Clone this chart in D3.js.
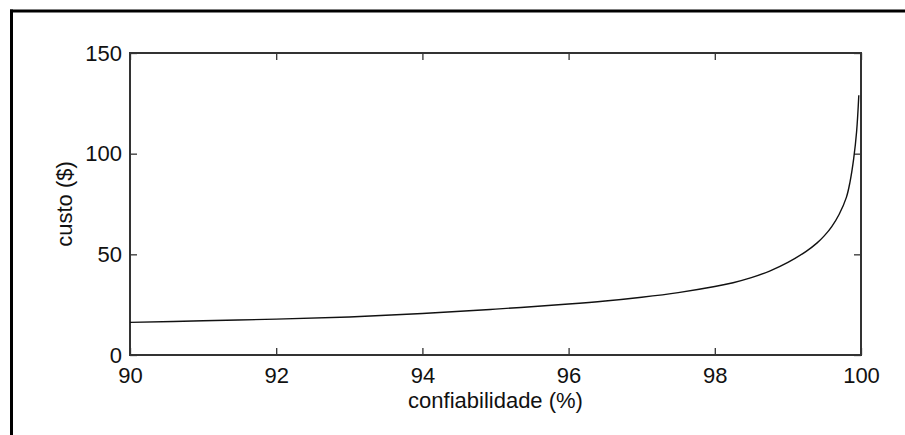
<!DOCTYPE html>
<html>
<head>
<meta charset="utf-8">
<script src="https://cdn.jsdelivr.net/npm/d3@7"></script>
<style>
  html, body { margin: 0; padding: 0; background: #fff; }
  svg { display: block; }
  text { font-family: "Liberation Sans", Arial, sans-serif; fill: #111; }
</style>
</head>
<body>
<div id="chart"></div>
<script>
// Data
const reliability = [90, 91, 92, 93, 94, 95, 96, 96.5, 97, 97.5, 98, 98.25, 98.5, 98.75, 99, 99.25, 99.4, 99.5, 99.6, 99.7, 99.8, 99.85, 99.9, 99.94, 99.97];
const cost        = [16.2, 17.0, 17.8, 18.9, 20.6, 22.8, 25.3, 26.8, 28.7, 31.0, 34.0, 35.9, 38.4, 41.7, 46.0, 51.5, 55.7, 59.3, 63.8, 69.8, 78.3, 86.0, 97.5, 111.0, 129];
const xTicks = [90, 92, 94, 96, 98, 100];
const yTicks = [0, 50, 100, 150];
const xLabel = "confiabilidade (%)";
const yLabel = "custo ($)";

(function () {
const W = 905, H = 435;
const pL = 130, pR = 861, pT = 53, pB = 355;

const svg = d3.select("#chart").append("svg").attr("width", W).attr("height", H);
svg.append("rect").attr("width", W).attr("height", H).attr("fill", "#fff");

// outer frame (top and left only)
svg.append("line").attr("x1", 10).attr("x2", W).attr("y1", 11).attr("y2", 11)
  .attr("stroke", "#000").attr("stroke-width", 3);
svg.append("line").attr("x1", 11.5).attr("x2", 11.5).attr("y1", 9.5).attr("y2", H)
  .attr("stroke", "#000").attr("stroke-width", 3);

const x = d3.scaleLinear().domain([90, 100]).range([pL, pR]);
const y = d3.scaleLinear().domain([0, 150]).range([pB, pT]);

const tickLen = 7;
const fs = 22;

function styleAxis(g) {
  g.select(".domain").remove();
  g.selectAll(".tick line").attr("stroke", "#333").attr("stroke-width", 1.3);
  g.selectAll(".tick text").attr("font-size", fs).attr("fill", "#111")
    .attr("font-family", '"Liberation Sans", Arial, sans-serif');
}

svg.append("g").attr("transform", `translate(0,${pB})`)
  .call(d3.axisBottom(x).tickValues(xTicks).tickFormat(d3.format("d")).tickSizeInner(-tickLen).tickSizeOuter(0).tickPadding(12))
  .call(styleAxis);
svg.append("g").attr("transform", `translate(0,${pT})`)
  .call(d3.axisTop(x).tickValues(xTicks).tickFormat("").tickSizeInner(-tickLen).tickSizeOuter(0))
  .call(styleAxis);
svg.append("g").attr("transform", `translate(${pL},0)`)
  .call(d3.axisLeft(y).tickValues(yTicks).tickFormat(d3.format("d")).tickSizeInner(-tickLen).tickSizeOuter(0).tickPadding(8))
  .call(styleAxis);
svg.append("g").attr("transform", `translate(${pR},0)`)
  .call(d3.axisRight(y).tickValues(yTicks).tickFormat("").tickSizeInner(-tickLen).tickSizeOuter(0))
  .call(styleAxis);

svg.append("rect").attr("x", pL).attr("y", pT).attr("width", pR - pL).attr("height", pB - pT)
  .attr("fill", "none").attr("stroke", "#333").attr("stroke-width", 2);

const pts = reliability.map((r, i) => [r, cost[i]]);
svg.append("path").datum(pts)
  .attr("fill", "none").attr("stroke", "#111").attr("stroke-width", 1.4)
  .attr("d", d3.line().x(d => x(d[0])).y(d => y(d[1])).curve(d3.curveCatmullRom.alpha(0.5)));

svg.append("text").attr("x", (pL + pR) / 2).attr("y", 408)
  .attr("text-anchor", "middle").attr("font-size", fs).text(xLabel);
svg.append("text").attr("transform", `translate(72,${(pT + pB) / 2}) rotate(-90)`)
  .attr("text-anchor", "middle").attr("font-size", fs).text(yLabel);
})();
</script>
</body>
</html>
